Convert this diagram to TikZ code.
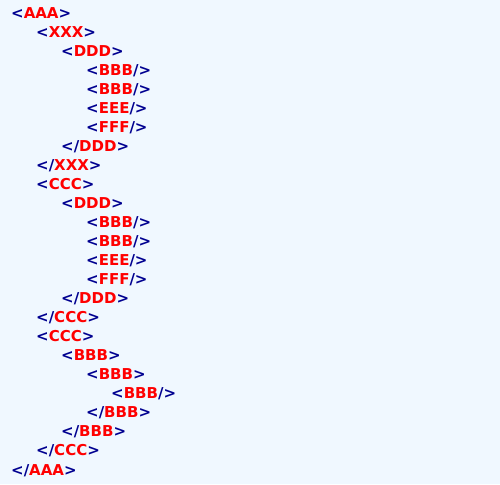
\documentclass[tikz,border=0pt]{standalone}
\usepackage{fontspec}
\setmainfont{DejaVu Sans}
\definecolor{pagebg}{HTML}{F0F8FF}
\definecolor{tagblue}{HTML}{000090}
\definecolor{tagred}{HTML}{FF0000}
\newcommand{\tagopen}[1]{<\textcolor{tagred}{#1}>}
\newcommand{\tagclose}[1]{</\textcolor{tagred}{#1}>}
\newcommand{\tagempty}[1]{<\textcolor{tagred}{#1}/>}
\tikzset{
  xmlline/.style={anchor=base west, inner sep=0pt, text=tagblue,
    font=\fontsize{15}{17}\bfseries}
}
\begin{document}
\begin{tikzpicture}[x=1pt,y=1pt]
  \useasboundingbox (0,0) rectangle (500,484);
  \fill[pagebg] (0,0) rectangle (500,484);
  % one line every 19pt, one level every 25pt
  \node[xmlline] (l1)  at (11,465) {\tagopen{AAA}};
  \node[xmlline] (l2)  at (36,446) {\tagopen{XXX}};
  \node[xmlline] (l3)  at (61,427) {\tagopen{DDD}};
  \node[xmlline] (l4)  at (86,408) {\tagempty{BBB}};
  \node[xmlline] (l5)  at (86,389) {\tagempty{BBB}};
  \node[xmlline] (l6)  at (86,370) {\tagempty{EEE}};
  \node[xmlline] (l7)  at (86,351) {\tagempty{FFF}};
  \node[xmlline] (l8)  at (61,332) {\tagclose{DDD}};
  \node[xmlline] (l9)  at (36,313) {\tagclose{XXX}};
  \node[xmlline] (l10) at (36,294) {\tagopen{CCC}};
  \node[xmlline] (l11) at (61,275) {\tagopen{DDD}};
  \node[xmlline] (l12) at (86,256) {\tagempty{BBB}};
  \node[xmlline] (l13) at (86,237) {\tagempty{BBB}};
  \node[xmlline] (l14) at (86,218) {\tagempty{EEE}};
  \node[xmlline] (l15) at (86,199) {\tagempty{FFF}};
  \node[xmlline] (l16) at (61,180) {\tagclose{DDD}};
  \node[xmlline] (l17) at (36,161) {\tagclose{CCC}};
  \node[xmlline] (l18) at (36,142) {\tagopen{CCC}};
  \node[xmlline] (l19) at (61,123) {\tagopen{BBB}};
  \node[xmlline] (l20) at (86,104) {\tagopen{BBB}};
  \node[xmlline] (l21) at (111,85) {\tagempty{BBB}};
  \node[xmlline] (l22) at (86,66)  {\tagclose{BBB}};
  \node[xmlline] (l23) at (61,47)  {\tagclose{BBB}};
  \node[xmlline] (l24) at (36,28)  {\tagclose{CCC}};
  \node[xmlline] (l25) at (11,9)   {\tagclose{AAA}};
\end{tikzpicture}
\end{document}
